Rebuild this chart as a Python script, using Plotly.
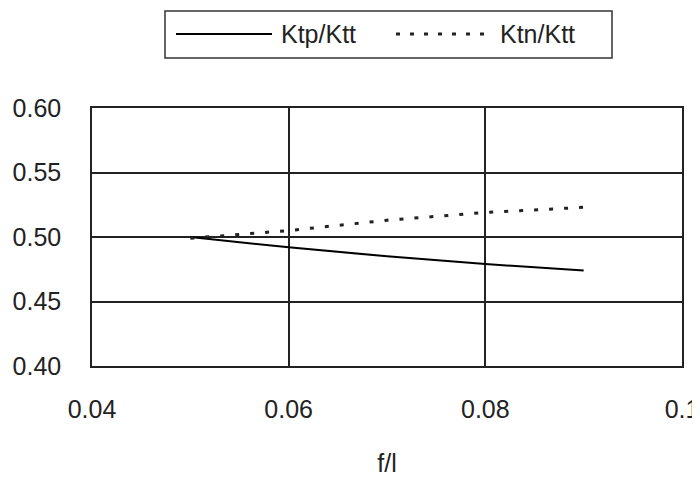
import plotly.graph_objects as go

x_vals = [0.05, 0.06, 0.07, 0.08, 0.09]
ktp_ktt = [0.500, 0.492, 0.485, 0.479, 0.474]
ktn_ktt = [0.499, 0.505, 0.513, 0.519, 0.523]
series_names = ["Ktp/Ktt", "Ktn/Ktt"]
x_ticks = [0.04, 0.06, 0.08, 0.1]
x_tick_text = ["0.04", "0.06", "0.08", "0.1"]
y_ticks = [0.40, 0.45, 0.50, 0.55, 0.60]
y_tick_text = ["0.40", "0.45", "0.50", "0.55", "0.60"]

FONT = "Liberation Sans, Arial, sans-serif"
FS = 25
DOT = "4px,11px"

fig = go.Figure()
fig.add_trace(go.Scatter(x=x_vals, y=ktp_ktt, mode="lines", name=series_names[0],
                         line=dict(color="black", width=2), showlegend=False))
fig.add_trace(go.Scatter(x=x_vals, y=ktn_ktt, mode="lines", name=series_names[1],
                         line=dict(color="#222222", width=3, dash=DOT), showlegend=False))

# page body has an 8px default margin on left/top, so the figure is 8px smaller
fig.update_layout(
    width=692, height=469,
    margin=dict(l=84, r=18, t=100, b=111),
    paper_bgcolor="white", plot_bgcolor="white",
    font=dict(family=FONT, size=FS, color="#222222"),
    xaxis=dict(range=[0.04, 0.1], tickvals=x_ticks, ticktext=x_tick_text,
               showgrid=True, gridcolor="#222222", gridwidth=1.5,
               showline=True, linecolor="#222222", linewidth=1.5, mirror=True,
               zeroline=False, ticks="", ticklabelstandoff=20, automargin=False,
               title=dict(text="f/l", standoff=36, font=dict(size=FS))),
    yaxis=dict(range=[0.40, 0.60], tickvals=y_ticks, ticktext=y_tick_text,
               showgrid=True, gridcolor="#222222", gridwidth=1.5,
               showline=True, linecolor="#222222", linewidth=1.5, mirror=True,
               zeroline=False, ticks="", ticklabelstandoff=24, automargin=False),
)

# Manual legend box (paper coords relative to plot area: x 92..682, y 108..366 in page px)
fig.add_shape(type="rect", xref="paper", yref="paper",
              x0=(165 - 92) / 590, x1=(612 - 92) / 590,
              y0=(366 - 58) / 258, y1=(366 - 11) / 258,
              line=dict(color="#333333", width=1.5), fillcolor="white")
fig.add_shape(type="line", xref="paper", yref="paper",
              x0=(176 - 92) / 590, x1=(272 - 92) / 590,
              y0=(366 - 34) / 258, y1=(366 - 34) / 258,
              line=dict(color="black", width=2))
fig.add_shape(type="line", xref="paper", yref="paper",
              x0=(396 - 92) / 590, x1=(494 - 92) / 590,
              y0=(366 - 34) / 258, y1=(366 - 34) / 258,
              line=dict(color="#222222", width=3, dash="4px,10px"))
fig.add_annotation(text=series_names[0], xref="paper", yref="paper",
                   x=(279 - 92) / 590, y=(366 - 34) / 258, xanchor="left", yanchor="middle",
                   showarrow=False, font=dict(size=FS, family=FONT))
fig.add_annotation(text=series_names[1], xref="paper", yref="paper",
                   x=(498 - 92) / 590, y=(366 - 34) / 258, xanchor="left", yanchor="middle",
                   showarrow=False, font=dict(size=FS, family=FONT))

fig.write_html("out.html")
